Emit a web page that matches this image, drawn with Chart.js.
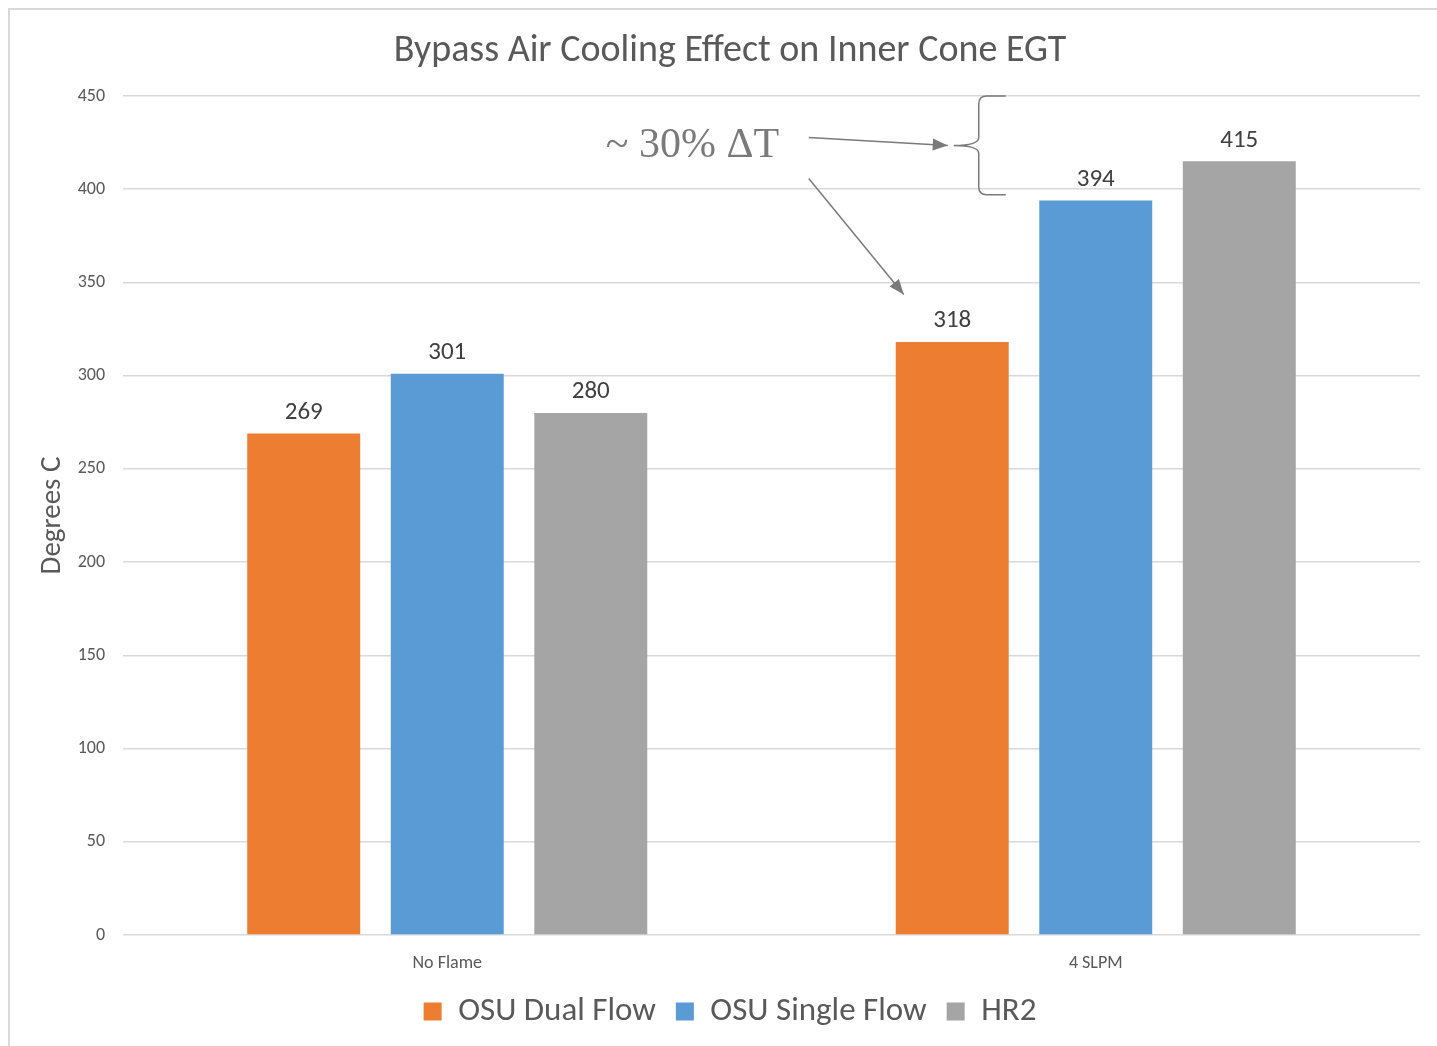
<!DOCTYPE html>
<html>
<head>
<meta charset="utf-8">
<script src="https://cdn.jsdelivr.net/npm/chart.js@4"></script>
<style>
  html, body { margin: 0; padding: 0; background: #ffffff; }
  #wrap { width: 1437px; height: 1046px; }
</style>
</head>
<body>
<div id="wrap"><canvas id="c" width="1437" height="1046"></canvas></div>
<script>
const categories = ["No Flame", "4 SLPM"];
const seriesNames = ["OSU Dual Flow", "OSU Single Flow", "HR2"];
const dualFlow = [269, 318];
const singleFlow = [301, 394];
const hr2 = [280, 415];
const yTicks = [0, 50, 100, 150, 200, 250, 300, 350, 400, 450];
const chartTitle = "Bypass Air Cooling Effect on Inner Cone EGT";
const yTitle = "Degrees C";
const annotationText = "~ 30% \u0394T";
const braceRange = [397, 450];

const colors = ["#ED7D31", "#5B9BD5", "#A5A5A5"];
const uiFont = "Carlito, 'Open Sans', sans-serif";

const frame = {
  id: 'frame',
  beforeDraw(chart) {
    const ctx = chart.ctx;
    ctx.save();
    ctx.fillStyle = '#ffffff';
    ctx.fillRect(0, 0, chart.width, chart.height);
    ctx.strokeStyle = '#d9d9d9';
    ctx.lineWidth = 2;
    ctx.beginPath();
    ctx.moveTo(9, chart.height);
    ctx.lineTo(9, 9);
    ctx.lineTo(chart.width, 9);
    ctx.stroke();
    ctx.restore();
  }
};

const valueLabels = {
  id: 'valueLabels',
  afterDatasetsDraw(chart) {
    const ctx = chart.ctx;
    ctx.save();
    ctx.font = "25px " + uiFont;
    ctx.fillStyle = '#404040';
    ctx.textAlign = 'center';
    ctx.textBaseline = 'middle';
    chart.data.datasets.forEach((ds, i) => {
      chart.getDatasetMeta(i).data.forEach((bar, j) => {
        ctx.fillText(String(ds.data[j]), bar.x, bar.y - 21);
      });
    });
    ctx.restore();
  }
};

function arrow(ctx, x1, y1, x2, y2) {
  ctx.beginPath();
  ctx.moveTo(x1, y1);
  ctx.lineTo(x2, y2);
  ctx.stroke();
  const a = Math.atan2(y2 - y1, x2 - x1);
  const L = 15, W = 6;
  ctx.beginPath();
  ctx.moveTo(x2, y2);
  ctx.lineTo(x2 - L * Math.cos(a) + W * Math.sin(a), y2 - L * Math.sin(a) - W * Math.cos(a));
  ctx.lineTo(x2 - L * Math.cos(a) - W * Math.sin(a), y2 - L * Math.sin(a) + W * Math.cos(a));
  ctx.closePath();
  ctx.fill();
}

const annotation = {
  id: 'annotation',
  afterDraw(chart) {
    const ctx = chart.ctx;
    const x = chart.scales.x, y = chart.scales.y;
    const cx = x.getPixelForValue(1);
    const yTop = y.getPixelForValue(braceRange[1]);
    const yBot = y.getPixelForValue(braceRange[0]);
    const yMid = (yTop + yBot) / 2;
    ctx.save();
    ctx.fillStyle = '#7a7a7a';
    ctx.strokeStyle = '#7a7a7a';
    ctx.font = "42px 'Liberation Serif', 'DejaVu Serif', serif";
    ctx.textAlign = 'left';
    ctx.textBaseline = 'alphabetic';
    ctx.fillText(annotationText, cx - 490, yMid + 12);
    ctx.lineWidth = 1.5;
    arrow(ctx, cx - 287, yMid - 8, cx - 148, yMid);
    arrow(ctx, cx - 287, yMid + 33, cx - 192, yMid + 149);
    // brace
    const bx0 = cx - 142, bx1 = cx - 117, bx2 = cx - 90, r = 8;
    ctx.beginPath();
    ctx.moveTo(bx2, yTop);
    ctx.lineTo(bx1 + r, yTop);
    ctx.quadraticCurveTo(bx1, yTop, bx1, yTop + r);
    ctx.lineTo(bx1, yMid - r);
    ctx.quadraticCurveTo(bx1, yMid, bx0, yMid);
    ctx.quadraticCurveTo(bx1, yMid, bx1, yMid + r);
    ctx.lineTo(bx1, yBot - r);
    ctx.quadraticCurveTo(bx1, yBot, bx1 + r, yBot);
    ctx.lineTo(bx2, yBot);
    ctx.stroke();
    ctx.restore();
  }
};

new Chart(document.getElementById('c'), {
  type: 'bar',
  data: {
    labels: categories,
    datasets: [
      { label: seriesNames[0], data: dualFlow, backgroundColor: colors[0] },
      { label: seriesNames[1], data: singleFlow, backgroundColor: colors[1] },
      { label: seriesNames[2], data: hr2, backgroundColor: colors[2] }
    ]
  },
  options: {
    responsive: false,
    animation: false,
    devicePixelRatio: 1,
    datasets: { bar: { categoryPercentage: 0.664, barPercentage: 0.787 } },
    layout: { padding: { left: 40, right: 17, top: 0, bottom: 8 } },
    plugins: {
      title: {
        display: true,
        text: chartTitle,
        color: '#595959',
        font: { family: uiFont, size: 38, weight: 'normal' },
        padding: { top: 29, bottom: 21.4 }
      },
      legend: {
        position: 'bottom',
        labels: {
          color: '#595959',
          font: { family: uiFont, size: 33 },
          boxWidth: 18,
          boxHeight: 18,
          padding: 20
        }
      },
      tooltip: { enabled: false }
    },
    scales: {
      x: {
        grid: { display: false },
        border: { display: false },
        ticks: { color: '#595959', font: { family: uiFont, size: 18 }, padding: 10, maxRotation: 0, autoSkip: false },
        afterFit(s) { s.height = 40; }
      },
      y: {
        min: 0,
        max: 450,
        afterBuildTicks(s) { s.ticks = yTicks.map(v => ({ value: v })); },
        grid: { color: '#d9d9d9', lineWidth: 1.5, drawTicks: false },
        border: { display: false },
        ticks: { color: '#595959', font: { family: uiFont, size: 18 }, padding: 18 },
        title: {
          display: true,
          text: yTitle,
          color: '#595959',
          font: { family: uiFont, size: 29 },
          padding: { top: -5, bottom: 0 }
        },
        afterFit(s) { s.width = 83; }
      }
    }
  },
  plugins: [frame, valueLabels, annotation]
});
</script>
</body>
</html>
